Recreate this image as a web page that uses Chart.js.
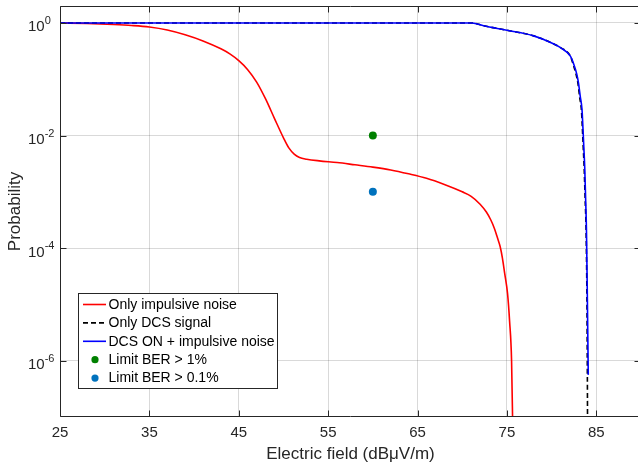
<!DOCTYPE html>
<html>
<head>
<meta charset="utf-8">
<script src="https://cdn.jsdelivr.net/npm/chart.js@4.4.1/dist/chart.umd.min.js"></script>
<style>
  html, body { margin: 0; padding: 0; background: #fff; overflow: hidden; }
  #wrap { width: 638px; height: 468px; overflow: hidden; position: relative; }
  #chart { position: absolute; left: 0; top: 0; }
</style>
</head>
<body>
<!-- canvas is a little wider than the window: the right edge of the axes box falls just outside, as in the original -->
<div id="wrap"><canvas id="chart" width="642" height="468" style="width:642px;height:468px"></canvas></div>
<script>
// ---------- Data ----------
const xTicks = [25, 35, 45, 55, 65, 75, 85];
const yTicks = [1e-6, 1e-4, 1e-2, 1];
const yTickExp = ['-6', '-4', '-2', '0'];

const seriesLabels = ['Only impulsive noise', 'Only DCS signal', 'DCS ON + impulsive noise', 'Limit BER > 1%', 'Limit BER > 0.1%'];

const impulsiveX = [25, 28, 31, 33, 35, 37, 39, 41, 43, 44, 45, 46, 47, 48, 49, 50, 50.6, 51.2, 51.8, 52.6, 54, 56, 58, 60, 62, 64, 66, 68, 70, 71, 72, 72.7, 73.2, 73.6, 73.95, 74.24, 74.5, 74.75, 75.07, 75.3, 75.52, 75.63, 75.7];
const impulsiveY = [1, 0.977, 0.938, 0.902, 0.847, 0.750, 0.617, 0.479, 0.347, 0.282, 0.214, 0.148, 0.0891, 0.0447, 0.02, 0.00912, 0.00603, 0.00468, 0.00407, 0.0038, 0.00355, 0.00331, 0.00302, 0.00275, 0.00245, 0.00209, 0.00174, 0.00135, 0.001, 0.000832, 0.000603, 0.000437, 0.000316, 0.000224, 0.000151, 0.000107, 6.6e-5, 3.55e-5, 1.55e-5, 5e-6, 1e-6, 1e-7, 1.6e-8];

const dcsX = [25, 71.1, 72.4, 75, 78, 80.2, 81, 82.1, 82.4, 82.75, 82.95, 83.14, 83.34, 83.44, 83.54, 83.64, 83.75, 83.86, 83.95, 84.0, 84.03];
const dcsY = [1, 1, 0.891, 0.741, 0.589, 0.427, 0.363, 0.257, 0.186, 0.120, 0.0832, 0.0479, 0.0275, 0.0135, 0.00603, 0.00269, 0.000759, 0.000191, 1.26e-5, 5e-7, 2.5e-8];

const combinedX = [25, 71.1, 72.4, 75, 78, 80.2, 81, 82.1, 82.45, 82.8, 83.0, 83.2, 83.4, 83.5, 83.6, 83.7, 83.8, 83.9, 84.0, 84.1];
const combinedY = [1, 1, 0.891, 0.741, 0.589, 0.427, 0.363, 0.257, 0.191, 0.126, 0.0871, 0.0501, 0.0288, 0.0141, 0.0063, 0.00282, 0.000794, 0.0002, 1.26e-5, 5.6e-7];

const limitX = [60];
const limit1Y = [1e-2];
const limit01Y = [1e-3];

// ---------- Helpers ----------
const FONT = '"Liberation Sans", Arial, sans-serif';
const AXIS_COLOR = '#262626';

function pts(xs, ys) {
  return xs.map((x, i) => ({ x, y: ys[i] }));
}

function lineSet(label, xs, ys, color, dash, order) {
  return {
    label,
    data: pts(xs, ys),
    showLine: true,
    borderColor: color,
    backgroundColor: color,
    borderWidth: 1.6,
    borderDash: dash,
    pointRadius: 0,
    cubicInterpolationMode: 'monotone',
    order
  };
}

function dotSet(label, xs, ys, color) {
  return {
    label,
    data: pts(xs, ys),
    showLine: false,
    pointRadius: 4,
    pointBorderWidth: 0,
    backgroundColor: color,
    borderColor: color,
    order: -1
  };
}

// ---------- Frame, inward ticks, y labels ----------
const framePlugin = {
  id: 'frame',
  afterDraw(chart) {
    const { ctx, chartArea: a, scales } = chart;
    const L = Math.round(a.left) + 0.5, R = Math.round(a.right) - 0.5;
    const T = Math.round(a.top) + 0.5, B = Math.round(a.bottom) - 0.5;
    ctx.save();
    ctx.strokeStyle = AXIS_COLOR;
    ctx.lineWidth = 1;
    ctx.beginPath();
    ctx.rect(L, T, R - L, B - T);
    const tl = 6;
    xTicks.forEach(v => {
      const x = Math.round(scales.x.getPixelForValue(v)) + 0.5;
      ctx.moveTo(x, B); ctx.lineTo(x, B - tl);
      ctx.moveTo(x, T); ctx.lineTo(x, T + tl);
    });
    yTicks.forEach(v => {
      const y = Math.round(scales.y.getPixelForValue(v)) + 0.5;
      ctx.moveTo(L, y); ctx.lineTo(L + tl, y);
      ctx.moveTo(R, y); ctx.lineTo(R - tl, y);
    });
    ctx.stroke();

    // y tick labels as 10^n
    ctx.fillStyle = AXIS_COLOR;
    ctx.textBaseline = 'alphabetic';
    ctx.textAlign = 'left';
    yTicks.forEach((v, i) => {
      const y = scales.y.getPixelForValue(v);
      ctx.font = '15px ' + FONT;
      ctx.fillText('10', 28, y + 8.5);
      const w = ctx.measureText('10').width;
      ctx.font = '11px ' + FONT;
      ctx.fillText(yTickExp[i], 28 + w, y + 1);
    });
    ctx.restore();
  }
};

// ---------- Legend ----------
const legendPlugin = {
  id: 'boxLegend',
  afterDatasetsDraw(chart) {
    const { ctx } = chart;
    const bx = 78.5, by = 293.5, bw = 199, bh = 95;
    ctx.save();
    ctx.fillStyle = '#fff';
    ctx.fillRect(bx, by, bw, bh);
    ctx.strokeStyle = AXIS_COLOR;
    ctx.lineWidth = 1;
    ctx.strokeRect(bx, by, bw, bh);
    ctx.font = '14px ' + FONT;
    ctx.textBaseline = 'middle';
    ctx.textAlign = 'left';
    chart.data.datasets.forEach((ds, i) => {
      const y = by + 11 + i * 18.4;
      if (ds.showLine) {
        ctx.strokeStyle = ds.borderColor;
        ctx.lineWidth = 1.6;
        ctx.setLineDash(ds.borderDash || []);
        ctx.beginPath();
        ctx.moveTo(83, y); ctx.lineTo(106, y);
        ctx.stroke();
        ctx.setLineDash([]);
      } else {
        ctx.fillStyle = ds.backgroundColor;
        ctx.beginPath();
        ctx.arc(95, y, 3.6, 0, Math.PI * 2);
        ctx.fill();
      }
      ctx.fillStyle = '#000';
      ctx.fillText(ds.label, 108.5, y + 0.5);
    });
    ctx.restore();
  }
};

// ---------- Chart ----------
const ctx = document.getElementById('chart').getContext('2d');
new Chart(ctx, {
  type: 'scatter',
  data: {
    datasets: [
      lineSet(seriesLabels[0], impulsiveX, impulsiveY, '#ff0000', [], 2),
      lineSet(seriesLabels[1], dcsX, dcsY, '#000000', [5, 3], 1),
      lineSet(seriesLabels[2], combinedX, combinedY, '#0000ff', [], 0),
      dotSet(seriesLabels[3], limitX, limit1Y, '#008000'),
      dotSet(seriesLabels[4], limitX, limit01Y, '#0072bd')
    ]
  },
  options: {
    responsive: false,
    animation: false,
    devicePixelRatio: 1,
    layout: { autoPadding: false, padding: { top: 6, right: 1, left: 0, bottom: 0 } },
    plugins: { legend: { display: false }, tooltip: { enabled: false } },
    scales: {
      x: {
        type: 'linear',
        min: 25,
        max: 90,
        afterBuildTicks: s => { s.ticks = xTicks.map(v => ({ value: v })); },
        afterFit: s => { s.height = 51; s.paddingRight = 0; },
        grid: { color: 'rgba(0,0,0,0.15)', drawTicks: false },
        border: { display: false },
        ticks: { color: AXIS_COLOR, font: { family: FONT, size: 15 }, padding: 7, maxRotation: 0 },
        title: {
          display: true,
          text: 'Electric field (dBμV/m)',
          color: AXIS_COLOR,
          font: { family: FONT, size: 17 },
          padding: { top: 0, bottom: 3 }
        }
      },
      y: {
        type: 'logarithmic',
        min: 1e-7,
        max: 2,
        afterBuildTicks: s => { s.ticks = yTicks.map(v => ({ value: v })); },
        afterFit: s => { s.width = 60; },
        grid: { color: 'rgba(0,0,0,0.15)', drawTicks: false },
        border: { display: false },
        ticks: { display: false },
        title: {
          display: true,
          text: 'Probability',
          color: AXIS_COLOR,
          font: { family: FONT, size: 17 },
          padding: { top: 5, bottom: 0 }
        }
      }
    }
  },
  plugins: [framePlugin, legendPlugin]
});
</script>
</body>
</html>
